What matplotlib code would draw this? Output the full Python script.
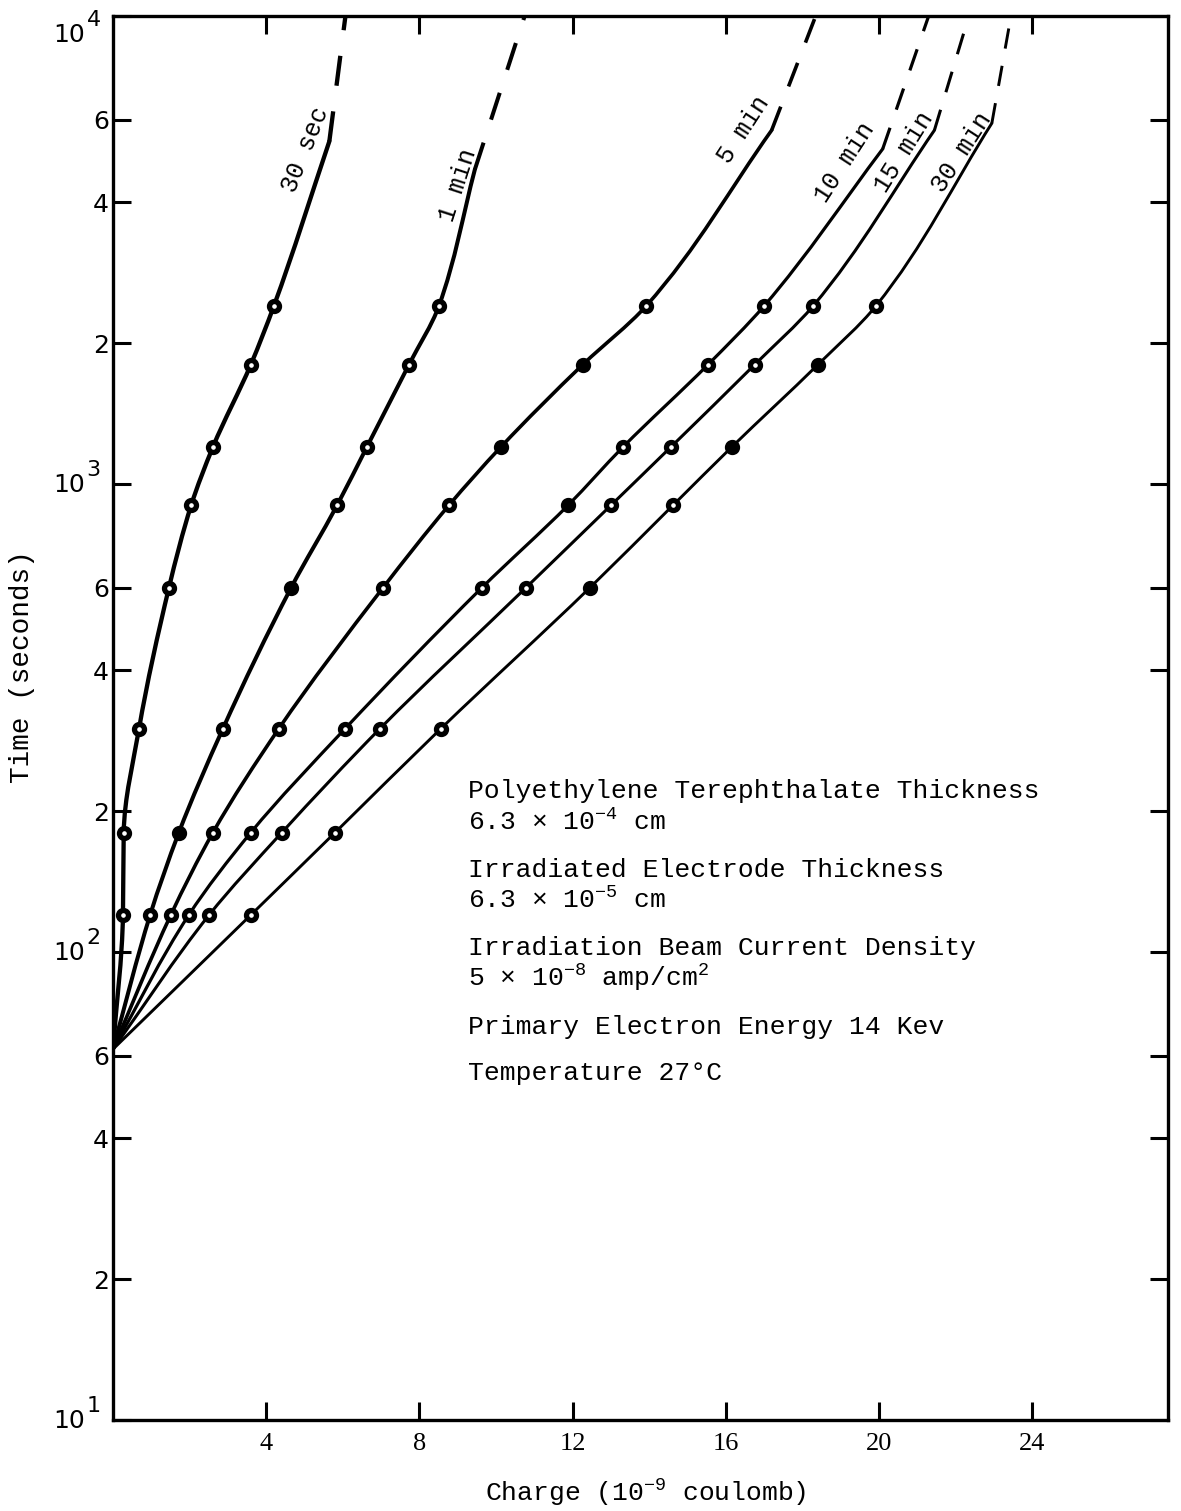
import numpy as np
import matplotlib.pyplot as plt
from matplotlib.path import Path
from matplotlib.patches import PathPatch
from matplotlib.ticker import FixedLocator, NullLocator
from matplotlib.transforms import blended_transform_factory

plt.rcParams['mathtext.fontset'] = 'custom'
plt.rcParams['mathtext.rm'] = 'Liberation Mono'
plt.rcParams['mathtext.it'] = 'Liberation Mono'

# sampling times (s) and measured charge (1e-9 C) for each irradiation time
times = [120, 180, 300, 600, 900, 1200, 1800, 2400]
q_30s = [0.26, 0.28, 0.68, 1.46, 2.04, 2.61, 3.60, 4.20]
q_1m = [0.97, 1.72, 2.87, 4.65, 5.85, 6.63, 7.73, 8.51]
q_5m = [1.51, 2.61, 4.33, 7.05, 8.77, 10.13, 12.27, 13.92]
q_10m = [1.98, 3.60, 6.06, 9.63, 11.88, 13.32, 15.54, 17.00]
q_15m = [2.51, 4.41, 6.97, 10.78, 13.00, 14.57, 16.76, 18.28]
q_30m = [3.60, 5.80, 8.56, 12.45, 14.62, 16.16, 18.41, 19.92]

# points that were printed solid
filled_30s = []
filled_1m = [180, 600]
filled_5m = [1200, 1800]
filled_10m = [900]
filled_15m = []
filled_30m = [600, 1200, 1800]

# common starting point of all curves
q0, t0 = 0.0, 62

# end of the solid trace, then dashed extrapolation up to 1e4 s
end_q = [5.65, 9.45, 17.20, 20.10, 21.45, 22.95]
end_t = [5400, 4700, 5700, 5200, 5700, 5900]
top_q = [6.07, 10.75, 18.35, 21.30, 22.35, 23.45]

names = ['30 sec', '1 min', '5 min', '10 min', '15 min', '30 min']
qs = [q_30s, q_1m, q_5m, q_10m, q_15m, q_30m]
fills = [filled_30s, filled_1m, filled_5m, filled_10m, filled_15m, filled_30m]
widths = [3.1, 2.9, 2.6, 2.3, 2.2, 2.1]


def smooth_path(xs, ys):
    # monotone cubic (PCHIP-style) for charge as a function of log time,
    # written as Bezier segments so the log axis draws it exactly
    x = np.asarray(xs, float)
    u = np.log10(ys)
    h = np.diff(u)
    delta = np.diff(x) / h
    d = np.empty_like(x)
    d[0], d[-1] = delta[0], delta[-1]
    for i in range(1, len(x) - 1):
        if delta[i - 1] * delta[i] <= 0:
            d[i] = 0.0
        else:
            w1 = 2 * h[i] + h[i - 1]
            w2 = h[i] + 2 * h[i - 1]
            d[i] = (w1 + w2) / (w1 / delta[i - 1] + w2 / delta[i])
    verts, codes = [(x[0], u[0])], [Path.MOVETO]
    for i in range(len(x) - 1):
        verts += [(x[i] + d[i] * h[i] / 3, u[i] + h[i] / 3),
                  (x[i + 1] - d[i + 1] * h[i] / 3, u[i + 1] - h[i] / 3),
                  (x[i + 1], u[i + 1])]
        codes += [Path.CURVE4] * 3
    verts = np.array(verts)
    verts[:, 1] = 10 ** verts[:, 1]
    return Path(verts, codes)


W, H = 1181, 1511
fig = plt.figure(figsize=(W / 100, H / 100), dpi=100)
ax = fig.add_axes([113 / W, 1 - 1420 / H, (1168 - 113) / W, (1420 - 16) / H])
ax.set_yscale('log')
ax.set_xlim(0, 27.55)
ax.set_ylim(10, 1e4)

for q, f, eq, et, lw, top in zip(qs, fills, end_q, end_t, widths, top_q):
    xs = [q0] + q + [eq]
    ys = [t0] + times + [et]
    ax.add_patch(PathPatch(smooth_path(xs, ys), fill=False, edgecolor='black',
                           lw=lw, capstyle='round', zorder=2))
    ax.plot([eq, top], [et, 1e4], color='black', lw=lw,
            dashes=(7, 6), zorder=2, clip_on=False)
    face = ['black' if t in f else 'white' for t in times]
    for x, t, fc in zip(q, times, face):
        ax.plot(x, t, 'o', ms=7.2, mew=3.8, mec='black', mfc=fc, zorder=3)

# curve labels along the upper ends
label_pos = [(305, 150, 68), (458, 185, 72), (744, 130, 57),
             (845, 162, 57), (904, 152, 58), (962, 152, 57)]
for name, (px, py, rot) in zip(names, label_pos):
    fig.text(px / W, 1 - py / H, name, rotation=rot, ha='center', va='center',
             fontsize=18, family='Liberation Mono', rotation_mode='anchor')

# axes styling
for s in ax.spines.values():
    s.set_linewidth(2.4)

yt = [10, 20, 40, 60, 100, 200, 400, 600, 1000, 2000, 4000, 6000, 10000]
decades = [10, 100, 1000, 10000]
ylab = ['' if t in decades else str(t)[0] for t in yt]
ax.yaxis.set_major_locator(FixedLocator(yt))
ax.yaxis.set_minor_locator(NullLocator())
ax.set_yticklabels(ylab, fontsize=18, family='DejaVu Sans')

# decade labels written as 10 with a raised exponent
bt = blended_transform_factory(ax.transAxes, ax.transData)
for t in decades:
    dy = -13 if t == 10000 else 0
    ax.annotate('10', xy=(0, t), xycoords=bt, xytext=(-20, -1 + dy),
                textcoords='offset points', ha='right', va='center',
                fontsize=18, family='DejaVu Sans', annotation_clip=False)
    ax.annotate(str(int(np.log10(t))), xy=(0, t), xycoords=bt, xytext=(-19, 10 + dy),
                textcoords='offset points', ha='left', va='center',
                fontsize=16, family='DejaVu Sans', annotation_clip=False)

xt = [4, 8, 12, 16, 20, 24]
ax.set_xticks(xt)
ax.set_xticklabels([str(v) for v in xt], fontsize=19, family='Liberation Serif')
ax.tick_params(axis='both', which='major', direction='in', length=13, width=2.2,
               top=True, right=True)
ax.tick_params(axis='y', pad=3)
ax.tick_params(axis='x', pad=9)

fig.text(646 / W, 1 - 1493 / H, 'Charge (10$^{-9}$ coulomb)', ha='center', va='center',
         fontsize=19, family='Liberation Mono')
fig.text(22 / W, 1 - 667 / H, 'Time (seconds)', rotation=90, ha='center', va='center',
         fontsize=20, family='Liberation Mono')

# experiment conditions
notes = [
    (791, 'Polyethylene Terephthalate Thickness'),
    (822, '6.3 \u00d7 10$^{-4}$ cm'),
    (870, 'Irradiated Electrode Thickness'),
    (900, '6.3 \u00d7 10$^{-5}$ cm'),
    (948, 'Irradiation Beam Current Density'),
    (978, '5 \u00d7 10$^{-8}$ amp/cm$^{2}$'),
    (1027, 'Primary Electron Energy 14 Kev'),
    (1073, 'Temperature 27\u00b0C'),
]
for py, txt in notes:
    fig.text(468 / W, 1 - py / H, txt, ha='left', va='center',
             fontsize=19, family='Liberation Mono')

fig.savefig('out.png', dpi=100)
